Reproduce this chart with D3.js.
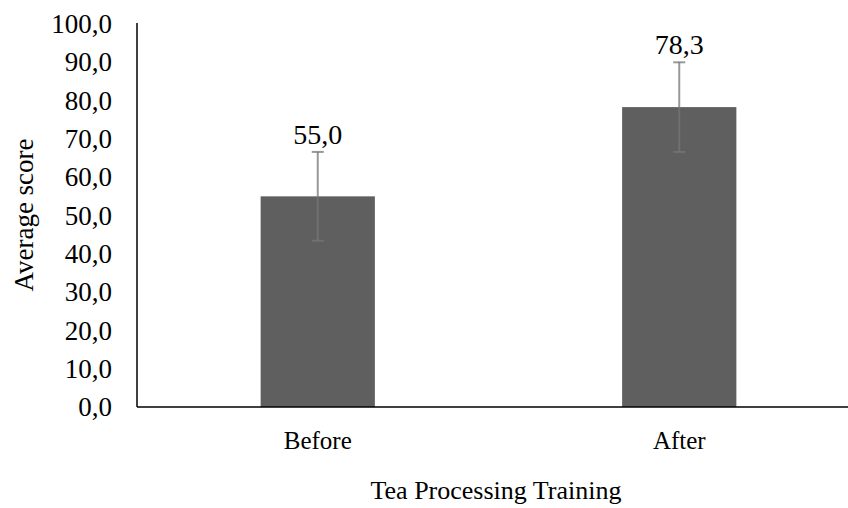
<!DOCTYPE html>
<html>
<head>
<meta charset="utf-8">
<script src="https://cdn.jsdelivr.net/npm/d3@7/dist/d3.min.js"></script>
<style>
  html, body { margin: 0; padding: 0; background: #fff; }
  svg { display: block; }
  text { font-family: "Liberation Serif", "Times New Roman", serif; fill: #000; }
</style>
</head>
<body>
<svg id="chart" width="848" height="508"></svg>
<script>
const categories = ["Before", "After"];
const values = [55.0, 78.3];
const errors = [11.6, 11.7];
const yTicks = [0, 10, 20, 30, 40, 50, 60, 70, 80, 90, 100];
const xTitle = "Tea Processing Training";
const yTitle = "Average score";

(function () {
const W = 848, H = 508;
const mLeft = 137, mRight = 860, mTop = 24, mBottom = 407;

const svg = d3.select("#chart");

const x = d3.scaleBand().domain(categories).range([mLeft, mRight]).paddingInner(0.684).paddingOuter(0.342);
const y = d3.scaleLinear().domain([0, 100]).range([mBottom, mTop]);
const fmt = v => d3.format(".1f")(v).replace(".", ",");

// bars
svg.append("g").selectAll("rect")
  .data(categories)
  .join("rect")
  .attr("x", d => x(d))
  .attr("width", x.bandwidth())
  .attr("y", (d, i) => y(values[i]))
  .attr("height", (d, i) => y(0) - y(values[i]))
  .attr("fill", "#5f5f5f");

// error bars
const eg = svg.append("g")
  .attr("stroke", "#757575")
  .attr("stroke-opacity", 0.75)
  .attr("stroke-width", 2);
categories.forEach((c, i) => {
  const cx = x(c) + x.bandwidth() / 2;
  const hi = y(values[i] + errors[i]), lo = y(values[i] - errors[i]);
  eg.append("line").attr("x1", cx).attr("x2", cx).attr("y1", hi).attr("y2", lo);
  eg.append("line").attr("x1", cx - 6).attr("x2", cx + 6).attr("y1", hi).attr("y2", hi);
  eg.append("line").attr("x1", cx - 6).attr("x2", cx + 6).attr("y1", lo).attr("y2", lo);
});

// data labels
svg.append("g").selectAll("text")
  .data(categories)
  .join("text")
  .attr("x", d => x(d) + x.bandwidth() / 2)
  .attr("y", (d, i) => y(values[i] + errors[i]) - 8)
  .attr("text-anchor", "middle")
  .attr("font-size", 28)
  .text((d, i) => fmt(values[i]));

// y axis
const yAxis = d3.axisLeft(y).tickValues(yTicks).tickFormat(fmt).tickSize(0).tickPadding(25);
const ya = svg.append("g").attr("transform", `translate(${mLeft},0)`).call(yAxis);
ya.select(".domain").remove();
ya.selectAll("text").attr("font-size", 27).attr("font-family", "Liberation Serif").attr("fill", "#000");

// x axis
const xAxis = d3.axisBottom(x).tickSize(0).tickPadding(24);
const xa = svg.append("g").attr("transform", `translate(0,${mBottom})`).call(xAxis);
xa.select(".domain").remove();
xa.selectAll("text").attr("font-size", 25).attr("font-family", "Liberation Serif").attr("fill", "#000")
  .attr("dy", 0).attr("y", 42);

// axis lines
svg.append("line").attr("x1", mLeft).attr("x2", mLeft).attr("y1", y(100) - 1).attr("y2", mBottom)
  .attr("stroke", "#000").attr("stroke-width", 1.5);
svg.append("line").attr("x1", mLeft).attr("x2", W).attr("y1", mBottom).attr("y2", mBottom)
  .attr("stroke", "#000").attr("stroke-width", 1.5);

// titles
svg.append("text")
  .attr("x", 496).attr("y", 499)
  .attr("text-anchor", "middle")
  .attr("font-size", 26)
  .text(xTitle);

svg.append("text")
  .attr("transform", `translate(33,215) rotate(-90)`)
  .attr("text-anchor", "middle")
  .attr("font-size", 27)
  .text(yTitle);
})();
</script>
</body>
</html>
